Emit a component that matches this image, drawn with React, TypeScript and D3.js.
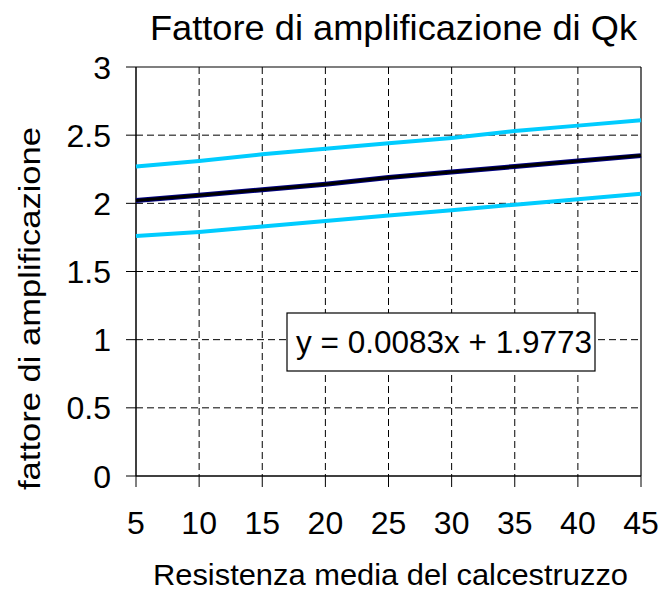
import React from "react";
import * as d3 from "d3";

const xValues = [5, 10, 15, 20, 25, 30, 35, 40, 45];
const meanSeries = [2.02, 2.06, 2.10, 2.14, 2.19, 2.23, 2.27, 2.31, 2.35];
const upperSeries = [2.27, 2.31, 2.36, 2.40, 2.44, 2.48, 2.53, 2.57, 2.61];
const lowerSeries = [1.76, 1.79, 1.83, 1.87, 1.91, 1.95, 1.99, 2.03, 2.07];
const xTicks = [5, 10, 15, 20, 25, 30, 35, 40, 45];
const yTicks = [0, 0.5, 1, 1.5, 2, 2.5, 3];
const yTickLabels = ["0", "0.5", "1", "1.5", "2", "2.5", "3"];
const title = "Fattore di amplificazione di Qk";
const xTitle = "Resistenza media del calcestruzzo";
const yTitle = "fattore di amplificazione";
const equation = "y = 0.0083x + 1.9773";

const W = 662, H = 591;
const L = 136, R = 641, T = 67, B = 476;
const FONT = "'Liberation Sans', Arial, sans-serif";

export default function App() {
  const x = d3.scaleLinear().domain([5, 45]).range([L, R]);
  const y = d3.scaleLinear().domain([0, 3]).range([B, T]);
  const line = (vals: number[]) =>
    d3.line<number>().x((_, i) => x(xValues[i])).y((d) => y(d))(vals) || "";

  return (
    <svg width={W} height={H} style={{ position: "absolute", left: 0, top: 0, background: "#fff" }} fontFamily={FONT}>
      <rect x={0} y={0} width={W} height={H} fill="#fff" />
      {/* grid */}
      {yTicks.slice(1, -1).map((t) => (
        <line key={"gy" + t} x1={L} x2={R} y1={y(t)} y2={y(t)} stroke="#000" strokeWidth={1} strokeDasharray="7,4" />
      ))}
      {xTicks.slice(1, -1).map((t) => (
        <line key={"gx" + t} x1={x(t)} x2={x(t)} y1={T} y2={B} stroke="#000" strokeWidth={1} strokeDasharray="7,4" />
      ))}
      {/* border top/right */}
      <line x1={L} x2={R} y1={T} y2={T} stroke="#000" strokeWidth={1.2} />
      <line x1={R} x2={R} y1={T} y2={B} stroke="#000" strokeWidth={1.2} />
      {/* axes */}
      <line x1={L} x2={L} y1={T} y2={B} stroke="#000" strokeWidth={1.5} />
      <line x1={L} x2={R} y1={B} y2={B} stroke="#000" strokeWidth={1.5} />
      {yTicks.map((t, i) => (
        <g key={"yt" + t}>
          <line x1={L - 10} x2={L} y1={y(t)} y2={y(t)} stroke="#000" strokeWidth={1} />
          <text x={111} y={y(t) + 11.5} fontSize={32} textAnchor="end" fill="#000">{yTickLabels[i]}</text>
        </g>
      ))}
      {xTicks.map((t) => (
        <g key={"xt" + t}>
          <line x1={x(t)} x2={x(t)} y1={B} y2={B + 11} stroke="#000" strokeWidth={1} />
          <text x={x(t)} y={534} fontSize={32} textAnchor="middle" fill="#000">{t}</text>
        </g>
      ))}
      {/* series */}
      <path d={line(upperSeries)} fill="none" stroke="#00CCFF" strokeWidth={4} />
      <path d={line(lowerSeries)} fill="none" stroke="#00CCFF" strokeWidth={4} />
      <path d={line(meanSeries)} fill="none" stroke="#000080" strokeWidth={5} />
      <path d={line(meanSeries)} fill="none" stroke="#000" strokeWidth={3} />
      {/* equation box */}
      <rect x={287} y={313} width={308} height={58} fill="#fff" stroke="#000" strokeWidth={1.2} />
      <text x={296} y={353} fontSize={32} fill="#000" textLength={296} lengthAdjust="spacingAndGlyphs">{equation}</text>
      {/* titles */}
      <text x={150} y={40} fontSize={35} fill="#000" textLength={487} lengthAdjust="spacingAndGlyphs">{title}</text>
      <text x={153} y={585} fontSize={30} fill="#000" textLength={475} lengthAdjust="spacingAndGlyphs">{xTitle}</text>
      <text transform={`translate(40,490) rotate(-90)`} fontSize={30} fill="#000" textLength={363} lengthAdjust="spacingAndGlyphs">{yTitle}</text>
    </svg>
  );
}
